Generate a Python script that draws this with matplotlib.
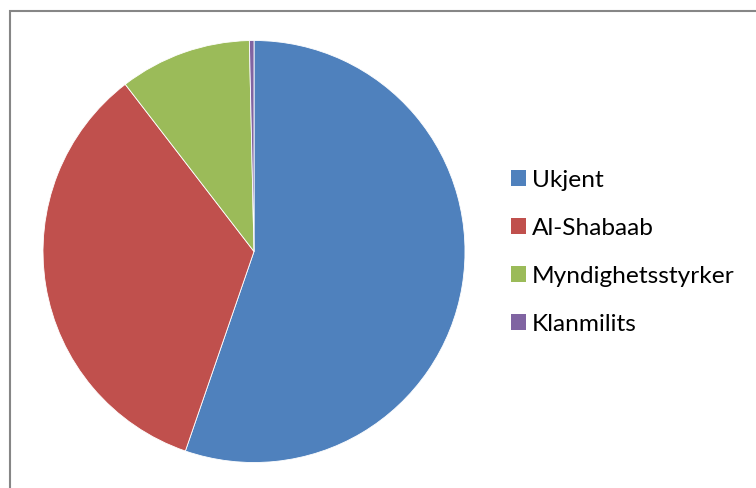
import matplotlib
matplotlib.use("Agg")
import matplotlib.pyplot as plt
from matplotlib.patches import Rectangle, Patch

labels = ["Ukjent", "Al-Shabaab", "Myndighetsstyrker", "Klanmilits"]
values = [55.3, 34.3, 10.1, 0.35]
colors = ["#4F81BD", "#C0504D", "#9BBB59", "#8064A2"]

plt.rcParams["font.family"] = ["Lato", "DejaVu Sans"]

W, H = 756, 488
fig = plt.figure(figsize=(W / 100, H / 100), dpi=100)

# ramme rundt diagrammet
fig.patches.append(Rectangle((10 / W, -0.1), 1.2, 1 - 10.5 / H + 0.1,
                             transform=fig.transFigure, fill=False,
                             edgecolor="#868686", linewidth=1.5))

cx, cy, r = 254, 251.5, 211
ax = fig.add_axes([(cx - r) / W, (H - cy - r) / H, 2 * r / W, 2 * r / H])
ax.pie(values, colors=colors, startangle=90, counterclock=False,
       wedgeprops=dict(edgecolor="white", linewidth=0.6))
ax.set_xlim(-1, 1)
ax.set_ylim(-1, 1)
ax.axis("off")

handles = [Patch(facecolor=c, edgecolor="none") for c in colors]
fig.legend(handles, labels, loc="upper left",
           bbox_to_anchor=(511 / W, 1 - 170 / H), frameon=False,
           fontsize=17.6, handlelength=0.62, handleheight=0.62,
           handletextpad=0.22, labelspacing=1.1, borderaxespad=0,
           borderpad=0)

fig.savefig("out.png", dpi=100)
